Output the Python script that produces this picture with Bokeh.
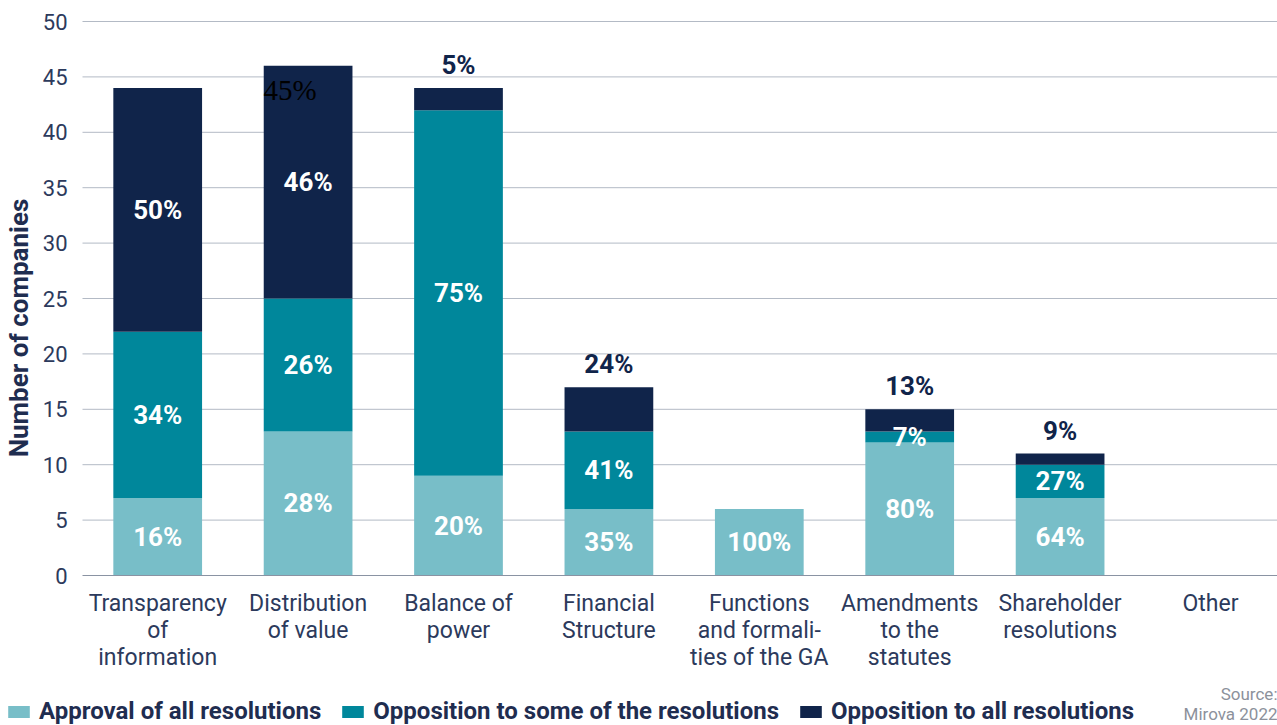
from bokeh.plotting import figure
from bokeh.models import ColumnDataSource, Range1d, Legend, LegendItem, Label
from bokeh.core.properties import value
from bokeh.embed import file_html
from bokeh.resources import INLINE

categories = [
    "Transparency\nof\ninformation",
    "Distribution\nof value",
    "Balance of\npower",
    "Financial\nStructure",
    "Functions\nand formali-\nties of the GA",
    "Amendments\nto the\nstatutes",
    "Shareholder\nresolutions",
    "Other",
]
approval = [7, 13, 9, 6, 6, 12, 7, 0]
some = [15, 12, 33, 7, 0, 1, 3, 0]
all_res = [22, 21, 2, 4, 0, 2, 1, 0]
approval_pct = ["16%", "28%", "20%", "35%", "100%", "80%", "64%", ""]
some_pct = ["34%", "26%", "75%", "41%", "", "7%", "27%", ""]
all_pct = ["50%", "46%", "5%", "24%", "", "13%", "9%", ""]
series_names = ["Approval of all resolutions", "Opposition to some of the resolutions",
                "Opposition to all resolutions"]
stray_text = "45%"
y_ticks = [0, 5, 10, 15, 20, 25, 30, 35, 40, 45, 50]
source_lines = ["Source:", "Mirova 2022"]

C_LIGHT = "#78bec8"
C_TEAL = "#00879b"
C_NAVY = "#10244a"
C_TEXT = "#2c3a5c"
C_TITLE = "#1f2d50"
C_GRID = "#b3bac5"
FONT = "Roboto"
colors = [C_LIGHT, C_TEAL, C_NAVY]

W, H = 1277, 725
xs = list(range(len(categories)))
# screen layout: band of first category starts at 82 px, 150.4 px per category;
# y = 0 at 575 px from top, 11.08 px per unit
px_x = 150.4
x_start = -0.5 - 82 / px_x
x_end = x_start + W / px_x
px_y = 11.08
y_start = -(H - 575) / px_y
y_end = y_start + H / px_y

src = ColumnDataSource(dict(x=xs, approval=approval, some=some, all_res=all_res))

p = figure(width=W, height=H, x_range=Range1d(x_start, x_end), y_range=Range1d(y_start, y_end),
           output_backend="svg", toolbar_location=None, min_border=0,
           min_border_left=0, min_border_right=0, min_border_top=0, min_border_bottom=0)
p.outline_line_color = None
p.xgrid.visible = False
p.ygrid.visible = False

# horizontal grid lines at the y ticks (except the baseline, drawn by the x axis)
grid_y = y_ticks[1:]
p.segment(x0=[-0.5] * len(grid_y), x1=[x_end] * len(grid_y), y0=grid_y, y1=grid_y,
          line_color=C_GRID, line_width=1, level="underlay")

renderers = p.vbar_stack(["approval", "some", "all_res"], x="x", width=0.59,
                         color=colors, line_color=None, source=src)

# segment labels
in_x, in_y, in_t = [], [], []
out_x, out_y, out_t = [], [], []
for i in xs:
    a, s, t = approval[i], some[i], all_res[i]
    if a > 0:
        in_x.append(i); in_y.append(a / 2); in_t.append(approval_pct[i])
    if s > 0:
        in_x.append(i); in_y.append(a + s / 2); in_t.append(some_pct[i])
    if t > 0:
        if t > 4:
            in_x.append(i); in_y.append(a + s + t / 2); in_t.append(all_pct[i])
        else:
            out_x.append(i); out_y.append(a + s + t); out_t.append(all_pct[i])

p.text(x=in_x, y=in_y, text=in_t, text_color="white", text_font=value(FONT),
       text_font_style="bold", text_font_size="26px", text_align="center",
       text_baseline="middle")
p.text(x=out_x, y=out_y, text=out_t, text_color=C_NAVY, text_font=value(FONT),
       text_font_style="bold", text_font_size="26px", text_align="center",
       text_baseline="bottom", y_offset=-8)
# stray serif label on the "Distribution of value" bar
p.text(x=[xs[1]], y=[approval[1] + some[1] + all_res[1]], text=[stray_text],
       text_color="black", text_font=value("Liberation Serif"), text_font_size="29px",
       text_align="center", text_baseline="middle", x_offset=-18, y_offset=24)

# y axis
p.yaxis.fixed_location = -0.5
p.yaxis.bounds = (-5.3, 50)
p.yaxis.ticker = y_ticks
p.yaxis.axis_line_color = None
p.yaxis.major_tick_line_color = None
p.yaxis.minor_tick_line_color = None
p.yaxis.major_label_standoff = 9
p.yaxis.major_label_text_font = FONT
p.yaxis.major_label_text_font_size = "22px"
p.yaxis.major_label_text_color = C_TEXT
p.yaxis.axis_label = "Number of companies"
p.yaxis.axis_label_text_font = FONT
p.yaxis.axis_label_text_font_style = "bold"
p.yaxis.axis_label_text_font_size = "26px"
p.yaxis.axis_label_text_color = C_TITLE
p.yaxis.axis_label_standoff = 6

# x axis
p.xaxis.fixed_location = 0
p.xaxis.bounds = (-0.5, x_end)
p.xaxis.ticker = xs
p.xaxis.major_label_overrides = {i: categories[i] for i in xs}
p.xaxis.axis_line_color = "#8a93a3"
p.xaxis.axis_line_width = 1
p.xaxis.major_tick_line_color = None
p.xaxis.minor_tick_line_color = None
p.xaxis.major_label_standoff = 8
p.xaxis.major_label_text_font = FONT
p.xaxis.major_label_text_font_size = "23px"
p.xaxis.major_label_text_line_height = 1.0
p.xaxis.major_label_text_color = C_TEXT

legend = Legend(items=[LegendItem(label=series_names[k], renderers=[renderers[k]]) for k in range(3)],
                orientation="horizontal", location=(5, 0), padding=0, margin=0,
                spacing=18, glyph_width=27, glyph_height=15, label_height=24,
                label_standoff=7,
                label_text_font=FONT, label_text_font_style="bold",
                label_text_font_size="24px", label_text_color=C_TITLE,
                border_line_color=None, background_fill_alpha=0)
p.add_layout(legend, "center")
p.add_layout(Label(x=W, y=32, x_units="screen", y_units="screen", text=source_lines[0],
                   text_align="right", text_baseline="middle", text_font=FONT,
                   text_font_size="17px", text_color="#8c919b"))
p.add_layout(Label(x=W, y=12, x_units="screen", y_units="screen", text=source_lines[1],
                   text_align="right", text_baseline="middle", text_font=FONT,
                   text_font_size="17px", text_color="#8c919b"))

open("out.html", "w").write(file_html(p, INLINE))
